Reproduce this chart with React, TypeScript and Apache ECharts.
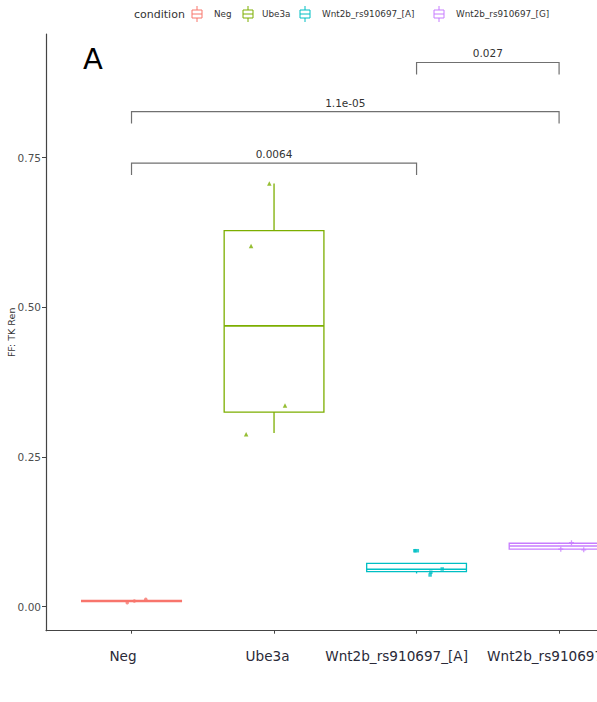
import React, { useEffect, useRef } from "react";
import * as echarts from "echarts";

// ---- data ----
const categories = ["Neg", "Ube3a", "Wnt2b_rs910697_[A]", "Wnt2b_rs910697_[G]"];
const whiskerLow = [0.0085, 0.29, 0.0555, 0.095];
const q1s = [0.0085, 0.325, 0.0585, 0.096];
const medians = [0.0095, 0.469, 0.0625, 0.1014];
const q3s = [0.0105, 0.628, 0.0725, 0.106];
const whiskerHigh = [0.0105, 0.707, 0.0725, 0.107];
// jittered observations: [horizontal jitter (category units), value]
const negPoints = [[-0.03, 0.0067], [0.1, 0.0124], [0.02, 0.0095]];
const ube3aPoints = [[-0.033, 0.707], [-0.161, 0.6025], [0.077, 0.336], [-0.196, 0.288]];
const wntAPoints = [[-0.012, 0.0935], [0.18, 0.063], [0.1, 0.0575], [0.095, 0.053]];
const wntGPoints = [[0.087, 0.107], [0.012, 0.096], [0.173, 0.095]];
const outliers = [[2, 0.0935]];
// significance brackets
const bracketFrom = [2, 0, 0];
const bracketTo = [3, 3, 2];
const bracketY = [0.909, 0.827, 0.741];
const bracketLabels = ["0.027", "1.1e-05", "0.0064"];
const yTicks = [0, 0.25, 0.5, 0.75];

const colors = ["#F8766D", "#7CAE00", "#00BFC4", "#C77CFF"];
const FONT = "DejaVu Sans, Liberation Sans, Arial, sans-serif";

export default function App() {
  const ref = useRef<HTMLDivElement>(null);
  useEffect(() => {
    if (!ref.current) return;
    const chart = echarts.init(ref.current, null, { renderer: "svg" });

    const pointGroups = [negPoints, ube3aPoints, wntAPoints, wntGPoints];
    const symbols = [
      "circle",
      "triangle",
      "rect",
      "path://M3,0H5V3H8V5H5V8H3V5H0V3H3Z",
    ];
    const symbolSizes = [3.5, 4.5, 3.5, 5];

    const scatterSeries = pointGroups.map((pts, gi) => ({
      type: "scatter",
      name: categories[gi],
      symbol: symbols[gi],
      symbolSize: symbolSizes[gi],
      itemStyle: { color: colors[gi] },
      data: pts.map((p) => [gi + p[0], p[1]]),
      z: 5,
    }));

    const boxData = categories.map((c, i) => [
      i,
      whiskerLow[i],
      q1s[i],
      medians[i],
      q3s[i],
      whiskerHigh[i],
    ]);

    const labelPad = [17, 13, 40, 0];
    const rich: any = {};
    labelPad.forEach((p, i) => {
      rich["c" + i] = {
        padding: [0, p, 0, 0],
        fontSize: 13.6,
        fontFamily: FONT,
        color: "#2a2a38",
      };
    });

    const legendKeysX = [192, 243, 300, 434];
    const legendTextX = [214, 262, 322, 456];
    const legendGraphics: any[] = [
      {
        type: "text",
        x: 134,
        y: 14,
        style: {
          text: "condition",
          fontSize: 11,
          fontFamily: FONT,
          fill: "#333",
          textAlign: "left",
          textVerticalAlign: "middle",
          align: "left",
          verticalAlign: "middle",
        },
      },
    ];
    categories.forEach((c, i) => {
      const kx = legendKeysX[i];
      legendGraphics.push(
        { type: "line", shape: { x1: kx + 5, y1: 6, x2: kx + 5, y2: 22 }, style: { stroke: colors[i], lineWidth: 1 } },
        { type: "rect", shape: { x: kx, y: 10, width: 10, height: 8 }, style: { fill: "#fff", stroke: colors[i], lineWidth: 1 } },
        { type: "line", shape: { x1: kx, y1: 14, x2: kx + 10, y2: 14 }, style: { stroke: colors[i], lineWidth: 1 } },
        {
          type: "text",
          x: legendTextX[i],
          y: 14,
          style: {
            text: c,
            fontSize: 8.8,
            fontFamily: FONT,
            fill: "#333",
            textAlign: "left",
            textVerticalAlign: "middle",
            align: "left",
            verticalAlign: "middle",
          },
        }
      );
    });

    const option: any = {
      animation: false,
      backgroundColor: "#fff",
      grid: {
        left: 46,
        top: 34,
        width: 598.6,
        height: 596.7,
        containLabel: false,
        outerBoundsMode: "none",
      },
      xAxis: {
        type: "value",
        min: -0.6,
        max: 3.6,
        splitLine: { show: false },
        axisLine: { show: true, onZero: false, lineStyle: { color: "#444", width: 1.2 } },
        axisTick: { show: true, customValues: [0, 1, 2, 3], length: 3, lineStyle: { color: "#444" } },
        axisLabel: {
          customValues: [0, 1, 2, 3],
          margin: 18,
          formatter: (v: number) => {
            const i = Math.round(v);
            return `{c${i}|${categories[i]}}`;
          },
          rich,
          fontSize: 13.6,
          fontFamily: FONT,
          color: "#2a2a38",
        },
      },
      yAxis: {
        type: "value",
        min: -0.0401,
        max: 0.9566,
        name: "FF: TK Ren",
        nameLocation: "middle",
        nameGap: 30,
        nameMoveOverlap: false,
        nameTextStyle: { fontSize: 9.5, fontFamily: FONT, color: "#333" },
        splitLine: { show: false },
        axisLine: { show: true, onZero: false, lineStyle: { color: "#444", width: 1.2 } },
        axisTick: { show: true, customValues: yTicks, length: 4, lineStyle: { color: "#444" } },
        axisLabel: {
          customValues: yTicks,
          margin: 5,
          formatter: (v: number) => v.toFixed(2),
          fontSize: 10.5,
          fontFamily: FONT,
          color: "#4d4d4d",
        },
      },
      graphic: [
        {
          type: "text",
          x: 83,
          y: 59,
          style: {
            text: "A",
            fontSize: 29,
            fontFamily: FONT,
            fill: "#000",
            textAlign: "left",
            textVerticalAlign: "middle",
            align: "left",
            verticalAlign: "middle",
          },
        },
        ...legendGraphics,
      ],
      series: [
        {
          type: "custom",
          name: "box",
          data: boxData,
          encode: { x: 0, y: [1, 2, 3, 4, 5] },
          z: 3,
          renderItem: (params: any, api: any) => {
            const x = api.value(0);
            const color = colors[params.dataIndex];
            const halfW = api.size([0.7, 0])[0] / 2;
            const pWl = api.coord([x, api.value(1)]);
            const pQ1 = api.coord([x, api.value(2)]);
            const pMed = api.coord([x, api.value(3)]);
            const pQ3 = api.coord([x, api.value(4)]);
            const pWh = api.coord([x, api.value(5)]);
            const lw = 1.3;
            return {
              type: "group",
              children: [
                { type: "line", shape: { x1: pWh[0], y1: pWh[1], x2: pQ3[0], y2: pQ3[1] }, style: { stroke: color, lineWidth: lw } },
                { type: "line", shape: { x1: pQ1[0], y1: pQ1[1], x2: pWl[0], y2: pWl[1] }, style: { stroke: color, lineWidth: lw } },
                {
                  type: "rect",
                  shape: { x: pQ3[0] - halfW, y: pQ3[1], width: 2 * halfW, height: Math.max(pQ1[1] - pQ3[1], 0.5) },
                  style: { fill: "#fff", stroke: color, lineWidth: lw },
                },
                { type: "line", shape: { x1: pMed[0] - halfW, y1: pMed[1], x2: pMed[0] + halfW, y2: pMed[1] }, style: { stroke: color, lineWidth: lw + 0.3 } },
              ],
            };
          },
        },
        {
          type: "scatter",
          name: "outlier",
          symbol: "rect",
          symbolSize: [5, 3.5],
          itemStyle: { color: colors[2] },
          data: outliers,
          z: 6,
        },
        ...scatterSeries,
        {
          type: "custom",
          name: "brackets",
          data: bracketFrom.map((f, i) => [f, bracketTo[i], bracketY[i], i]),
          encode: { x: [0, 1], y: 2 },
          z: 4,
          renderItem: (params: any, api: any) => {
            const y = api.value(2);
            const p1 = api.coord([api.value(0), y]);
            const p2 = api.coord([api.value(1), y]);
            const tick = 12;
            return {
              type: "group",
              children: [
                {
                  type: "polyline",
                  shape: { points: [[p1[0], p1[1] + tick], [p1[0], p1[1]], [p2[0], p2[1]], [p2[0], p2[1] + tick]] },
                  style: { stroke: "#707070", lineWidth: 1.2, fill: "none" },
                },
                {
                  type: "text",
                  x: (p1[0] + p2[0]) / 2,
                  y: p1[1] - 9,
                  style: {
                    text: bracketLabels[api.value(3)],
                    fontSize: 10.5,
                    fontFamily: FONT,
                    fill: "#333",
                    textAlign: "center",
                    textVerticalAlign: "middle",
                    align: "center",
                    verticalAlign: "middle",
                  },
                },
              ],
            };
          },
        },
      ],
    };
    chart.setOption(option);
    return () => chart.dispose();
  }, []);
  return (
    <div
      ref={ref}
      style={{ position: "absolute", left: 0, top: 0, width: 597, height: 702, background: "#fff" }}
    />
  );
}
